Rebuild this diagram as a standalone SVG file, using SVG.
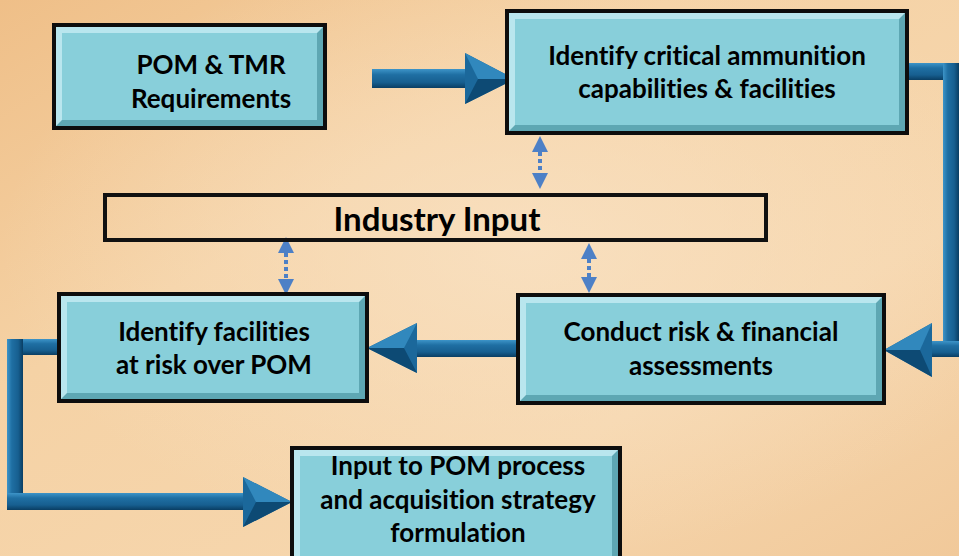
<svg xmlns="http://www.w3.org/2000/svg" width="959" height="556" viewBox="0 0 959 556">
<defs>
<linearGradient id="bg" x1="0" y1="0" x2="1" y2="1">
<stop offset="0" stop-color="#efbf88"/>
<stop offset="0.35" stop-color="#f5d2a5"/>
<stop offset="0.7" stop-color="#f6d6ad"/>
<stop offset="1" stop-color="#f1c99a"/>
</linearGradient>
<radialGradient id="glow" cx="0.55" cy="0.45" r="0.55">
<stop offset="0" stop-color="#f9e2c4" stop-opacity="0.8"/>
<stop offset="1" stop-color="#f9e2c4" stop-opacity="0"/>
</radialGradient>
<linearGradient id="sh" x1="0" y1="0" x2="0" y2="1">
<stop offset="0" stop-color="#3d94c8"/>
<stop offset="0.3" stop-color="#1f6fa3"/>
<stop offset="0.7" stop-color="#175f90"/>
<stop offset="1" stop-color="#0a3e63"/>
</linearGradient>
<linearGradient id="sv" x1="0" y1="0" x2="1" y2="0">
<stop offset="0" stop-color="#3d94c8"/>
<stop offset="0.3" stop-color="#1f6fa3"/>
<stop offset="0.7" stop-color="#175f90"/>
<stop offset="1" stop-color="#0a3e63"/>
</linearGradient>
<marker id="dh" viewBox="0 0 16 16" refX="0" refY="8" markerWidth="16" markerHeight="16" markerUnits="userSpaceOnUse" orient="auto-start-reverse">
<path d="M0,0 L16,8 L0,16 Z" fill="#4d80c6"/>
</marker>
</defs>
<style>
.bd{fill:#0d0d0d}
.lt{fill:#b9e6ee}
.dk{fill:#5ea7b3}
.ct{fill:#88cfda}
.tx{font-family:Lato,"Liberation Sans",sans-serif;font-weight:bold;font-size:26px;fill:#000;text-anchor:middle;font-variant-ligatures:none;font-feature-settings:"liga" 0,"clig" 0}
.big{font-size:33px}
.dot{stroke:#4d80c6;stroke-width:4;stroke-dasharray:4 3;fill:none}
.hu{fill:#3188bd}
.hd{fill:#0d4a74}
.hm{fill:#1b689b}
</style>
<rect width="959" height="556" fill="url(#bg)"/>
<rect width="959" height="556" fill="url(#glow)"/>

<g id="connectors">
<g id="a1">
<rect x="372" y="69" width="96" height="19" fill="url(#sh)"/>
<polygon points="465,53 515,79 465,104" class="hm"/>
<polygon points="465,53 515,79 478,79" class="hu"/>
<polygon points="465,104 515,79 478,79" class="hd"/>
</g>
<g id="a2">
<rect x="905" y="63" width="54" height="17" fill="url(#sh)"/>
<rect x="943" y="63" width="16" height="294" fill="url(#sv)"/>
<rect x="928" y="341" width="31" height="16" fill="url(#sh)"/>
<polygon points="932,323 884,350 932,377" class="hm"/>
<polygon points="932,323 884,350 920,350" class="hu"/>
<polygon points="932,377 884,350 920,350" class="hd"/>
</g>
<g id="a3">
<rect x="415" y="340" width="103" height="17" fill="url(#sh)"/>
<polygon points="417,323 367,348 417,373" class="hm"/>
<polygon points="417,323 367,348 404,348" class="hu"/>
<polygon points="417,373 367,348 404,348" class="hd"/>
</g>
<g id="a4">
<rect x="7" y="339" width="52" height="16" fill="url(#sh)"/>
<rect x="7" y="339" width="16" height="171" fill="url(#sv)"/>
<rect x="7" y="493" width="238" height="17" fill="url(#sh)"/>
<polygon points="243,477 292,502 243,527" class="hm"/>
<polygon points="243,477 292,502 256,502" class="hu"/>
<polygon points="243,527 292,502 256,502" class="hd"/>
</g>
<line class="dot" x1="540" y1="152" x2="540" y2="173" marker-start="url(#dh)" marker-end="url(#dh)"/>
<line class="dot" x1="589" y1="259" x2="589" y2="277" marker-start="url(#dh)" marker-end="url(#dh)"/>
<line class="dot" x1="286" y1="253" x2="286" y2="279" marker-start="url(#dh)" marker-end="url(#dh)"/>
</g>

<g id="pom-tmr">
<rect class="bd" x="52" y="23" width="275" height="107"/>
<polygon class="lt" points="56,27 323,27 323,126 56,126"/>
<polygon class="dk" points="323,27 323,126 56,126 62,120 317,120 317,33"/>
<rect class="ct" x="62" y="33" width="255" height="87"/>
<text class="tx" x="211" y="74">POM &amp; TMR</text>
<text class="tx" x="211" y="108">Requirements</text>
</g>

<g id="identify-critical">
<rect class="bd" x="505" y="9" width="404" height="126"/>
<polygon class="lt" points="509,13 905,13 905,131 509,131"/>
<polygon class="dk" points="905,13 905,131 509,131 515,125 899,125 899,19"/>
<rect class="ct" x="515" y="19" width="384" height="106"/>
<text class="tx" x="707" y="65">Identify critical ammunition</text>
<text class="tx" x="707" y="98">capabilities &amp; facilities</text>
</g>

<g id="industry-input">
<rect x="105" y="195" width="661" height="45" fill="none" stroke="#111" stroke-width="4"/>
<text class="tx big" x="437" y="231">Industry Input</text>
</g>

<g id="identify-facilities">
<rect class="bd" x="57" y="292" width="312" height="111"/>
<polygon class="lt" points="61,296 365,296 365,399 61,399"/>
<polygon class="dk" points="365,296 365,399 61,399 67,393 359,393 359,302"/>
<rect class="ct" x="67" y="302" width="292" height="91"/>
<text class="tx" x="214" y="341">Identify facilities</text>
<text class="tx" x="214" y="374">at risk over POM</text>
</g>

<g id="conduct-risk">
<rect class="bd" x="516" y="293" width="370" height="112"/>
<polygon class="lt" points="520,297 882,297 882,401 520,401"/>
<polygon class="dk" points="882,297 882,401 520,401 526,395 876,395 876,303"/>
<rect class="ct" x="526" y="303" width="350" height="92"/>
<text class="tx" x="701" y="341">Conduct risk &amp; financial</text>
<text class="tx" x="701" y="375">assessments</text>
</g>

<g id="input-pom">
<rect class="bd" x="290" y="446" width="332" height="116"/>
<polygon class="lt" points="294,450 618,450 618,562 294,562"/>
<polygon class="dk" points="618,450 618,562 612,562 612,456"/>
<rect class="ct" x="300" y="456" width="312" height="106"/>
<text class="tx" x="458" y="475">Input to POM process</text>
<text class="tx" x="458" y="509">and acquisition strategy</text>
<text class="tx" x="458" y="542">formulation</text>
</g>
</svg>
